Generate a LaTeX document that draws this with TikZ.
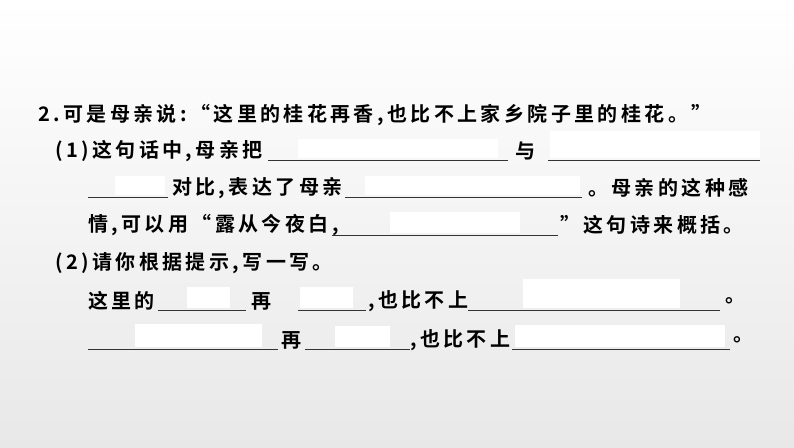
\documentclass[tikz,border=0pt]{standalone}
\usepackage{fontspec}
\newfontfamily\cjk[BoldFont=* Bold,LetterSpace=17]{Noto Sans CJK SC}
\begin{document}
\begin{tikzpicture}[x=1pt,y=-1pt,
  t/.style={anchor=west,inner sep=0pt,font=\cjk\bfseries\fontsize{20}{20}\selectfont},
  ul/.style={draw=black!80,line width=0.8pt},
  wb/.style={fill=white,draw=none}]
\shade[top color=white,bottom color=black!9] (0,0) rectangle (794,447);
\useasboundingbox (0,0) rectangle (794,447);
% line 1
\node[t] (l1) at (38,115) {2.可是母亲说:“这里的桂花再香,也比不上家乡院子里的桂花。”};
% line 2
\node[t] (a1) at (55,151) {(1)这句话中,母亲把};
\draw[ul] (268,160) -- (508,160);
\fill[wb] (298,139) rectangle (498,158);
\node[t] (a2) at (515,151) {与};
\draw[ul] (548,160) -- (760,160);
\fill[wb] (550,131) rectangle (760,158);
% line 3
\draw[ul] (88,197) -- (168,197);
\fill[wb] (115,176) rectangle (165,195);
\node[t] (b1) at (172,188) {对比,表达了母亲};
\draw[ul] (345,197) -- (582,197);
\fill[wb] (365,176) rectangle (580,195);
\node[t] (b2) at (588,188) {。母亲的这种感};
% line 4
\node[t] (c1) at (88,225) {情,可以用“露从今夜白,};
\draw[ul] (332,235) -- (558,235);
\fill[wb] (390,212) rectangle (520,233);
\node[t] (c2) at (560,225) {”这句诗来概括。};
% line 5
\node[t] (d1) at (55,263) {(2)请你根据提示,写一写。};
% line 6
\node[t] (e1) at (88,301) {这里的};
\draw[ul] (158,310) -- (246,310);
\fill[wb] (187,287) rectangle (230,308);
\node[t] (e2) at (251,301) {再};
\draw[ul] (298,310) -- (366,310);
\fill[wb] (300,287) rectangle (353,308);
\node[t] (e3) at (368,301) {,也比不上};
\draw[ul] (468,310) -- (720,310);
\fill[wb] (523,279) rectangle (680,308);
\node[t] (e4) at (725,301) {。};
% line 7
\draw[ul] (88,349) -- (278,349);
\fill[wb] (135,324) rectangle (262,347);
\node[t] (f1) at (281,340) {再};
\draw[ul] (305,349) -- (410,349);
\fill[wb] (335,326) rectangle (390,347);
\node[t] (f2) at (410,340) {,也比不上};
\draw[ul] (512,349) -- (730,349);
\fill[wb] (515,325) rectangle (725,347);
\node[t] (f3) at (733,340) {。};
\end{tikzpicture}
\end{document}
